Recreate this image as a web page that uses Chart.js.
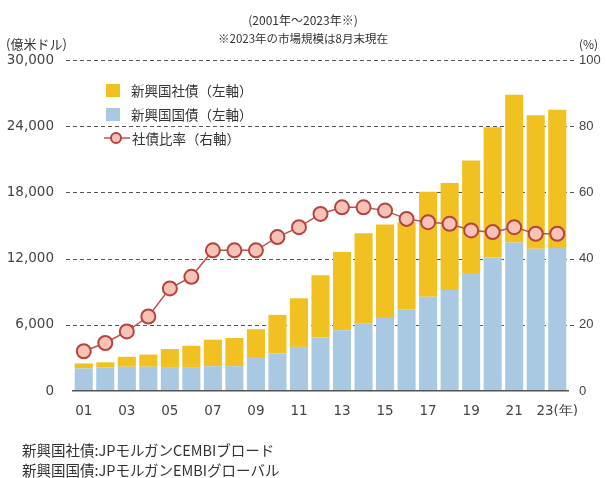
<!DOCTYPE html>
<html>
<head>
<meta charset="utf-8">
<script src="https://cdn.jsdelivr.net/npm/chart.js@4/dist/chart.umd.min.js"></script>
<style>
  html, body { margin: 0; padding: 0; background: #fff; }
  #wrap { position: relative; width: 606px; height: 478px; overflow: hidden; font-family: "Noto Sans CJK JP", "Liberation Sans", sans-serif; color: #333; }
  canvas { position: absolute; left: 0; top: 0; }
  .t { position: absolute; white-space: nowrap; line-height: 1; }
  .leg { position: absolute; left: 104px; font-size: 13.5px; color: #333; }
  .leg .row { position: absolute; left: 0; white-space: nowrap; height: 16px; display: flex; align-items: center; }
  .sw { display: inline-block; width: 14px; height: 13px; margin-right: 11px; margin-left: 2px; }
</style>
</head>
<body>
<div id="wrap">
  <canvas id="c" width="606" height="478"></canvas>
  <div class="t" style="left:0;width:606px;text-align:center;top:14px;font-size:12px;">(2001年～2023年※)</div>
  <div class="t" style="left:0;width:606px;text-align:center;top:33px;font-size:11.5px;">※2023年の市場規模は8月末現在</div>
  <div class="t" style="left:6px;top:37px;font-size:13px;">(億米ドル)</div>
  <div class="t" style="left:579px;top:38px;font-size:12px;">(%)</div>
  <div class="leg" style="top:0;">
    <div class="row" style="top:82px;"><span class="sw" style="background:#F1C021"></span>新興国社債（左軸）</div>
    <div class="row" style="top:106px;"><span class="sw" style="background:#A9C9E2"></span>新興国国債（左軸）</div>
    <div class="row" style="top:130px;"><svg width="26" height="14" style="margin-right:2px"><line x1="0" y1="7" x2="26" y2="7" stroke="#C0504A" stroke-width="1.5"/><circle cx="12" cy="7" r="5" fill="#F8C3B6" stroke="#B5433E" stroke-width="2"/></svg>社債比率（右軸）</div>
  </div>
  <div class="t" style="left:22px;top:443px;font-size:14.5px;">新興国社債:JPモルガンCEMBIブロード</div>
  <div class="t" style="left:22px;top:463px;font-size:14.5px;">新興国国債:JPモルガンEMBIグローバル</div>
</div>
<script>
const categories = ['2001','2002','2003','2004','2005','2006','2007','2008','2009','2010','2011','2012','2013','2014','2015','2016','2017','2018','2019','2020','2021','2022','2023'];
const xTickLabels = ['01','','03','','05','','07','','09','','11','','13','','15','','17','','19','','21','','23(年)'];
// 億米ドル
const govBonds = [2050, 2150, 2200, 2200, 2100, 2100, 2250, 2250, 3000, 3400, 4000, 4850, 5500, 6100, 6700, 7400, 8550, 9150, 10700, 12100, 13450, 12900, 12950];
const corpBonds = [450, 450, 900, 1100, 1700, 2000, 2400, 2550, 2600, 3500, 4400, 5650, 7100, 8200, 8400, 7900, 9500, 9700, 10200, 11800, 13400, 12100, 12550];
// %
const corpRatio = [12, 14.5, 18, 22.5, 31, 34.5, 42.5, 42.5, 42.5, 46.5, 49.5, 53.5, 55.5, 55.5, 54.5, 52, 51, 50.5, 48.5, 48, 49.5, 47.5, 47.5];
const leftTicks = [0, 6000, 12000, 18000, 24000, 30000];
const rightTicks = [0, 20, 40, 60, 80, 100];

const tickFont = { family: "'DejaVu Sans', sans-serif", size: 13.5 };
const rightFont = { family: "'Liberation Sans', Arial, sans-serif", size: 13 };

// dashed horizontal grid drawn behind bars from the y scale's own pixels
const dashedGrid = {
  id: 'dashedGrid',
  beforeDatasetsDraw(chart) {
    const { ctx, chartArea: a, scales: { y } } = chart;
    ctx.save();
    ctx.strokeStyle = '#555';
    ctx.lineWidth = 1.2;
    ctx.setLineDash([4, 3]);
    leftTicks.forEach(v => {
      if (v === 0) return;
      const py = Math.round(y.getPixelForValue(v)) + 0.5;
      ctx.beginPath();
      ctx.moveTo(a.left - 7, py);
      ctx.lineTo(a.right + 6, py);
      ctx.stroke();
    });
    ctx.restore();
  }
};

new Chart(document.getElementById('c'), {
  type: 'bar',
  data: {
    labels: categories,
    datasets: [
      { label: '新興国国債（左軸）', data: govBonds, backgroundColor: '#A9C9E2', stack: 's', yAxisID: 'y', order: 2, categoryPercentage: 1, barPercentage: 0.84 },
      { label: '新興国社債（左軸）', data: corpBonds, backgroundColor: '#F1C021', stack: 's', yAxisID: 'y', order: 2, categoryPercentage: 1, barPercentage: 0.84 },
      { type: 'line', label: '社債比率（右軸）', data: corpRatio, yAxisID: 'y2', order: 0,
        borderColor: '#C0504A', borderWidth: 1.5, pointRadius: 7, pointBorderWidth: 2,
        pointBackgroundColor: '#F8C3B6', pointBorderColor: '#B5433E', tension: 0 }
    ]
  },
  plugins: [dashedGrid],
  options: {
    responsive: false,
    animation: false,
    devicePixelRatio: 1,
    layout: { padding: { top: 60, bottom: 62, left: 0, right: 0 } },
    plugins: { legend: { display: false }, tooltip: { enabled: false }, title: { display: false } },
    scales: {
      x: {
        stacked: true,
        grid: { display: false },
        border: { display: true, color: '#555', width: 1.5, z: 1 },
        ticks: { autoSkip: false, maxRotation: 0, color: '#444', font: tickFont, padding: 4,
          callback: (v, i) => xTickLabels[i] },
        afterFit: s => { s.height = 25; }
      },
      y: {
        stacked: true, position: 'left', min: 0, max: 30000,
        afterBuildTicks: s => { s.ticks = leftTicks.map(v => ({ value: v })); },
        grid: { display: false },
        border: { display: false },
        ticks: { color: '#444', font: tickFont, padding: 11, callback: v => v.toLocaleString('en-US') },
        afterFit: s => { s.width = 73; }
      },
      y2: {
        position: 'right', min: 0, max: 100,
        afterBuildTicks: s => { s.ticks = rightTicks.map(v => ({ value: v })); },
        grid: { display: false },
        border: { display: false },
        ticks: { color: '#444', font: rightFont, padding: 3 },
        afterFit: s => { s.width = 38; }
      }
    }
  }
});
</script>
</body>
</html>
